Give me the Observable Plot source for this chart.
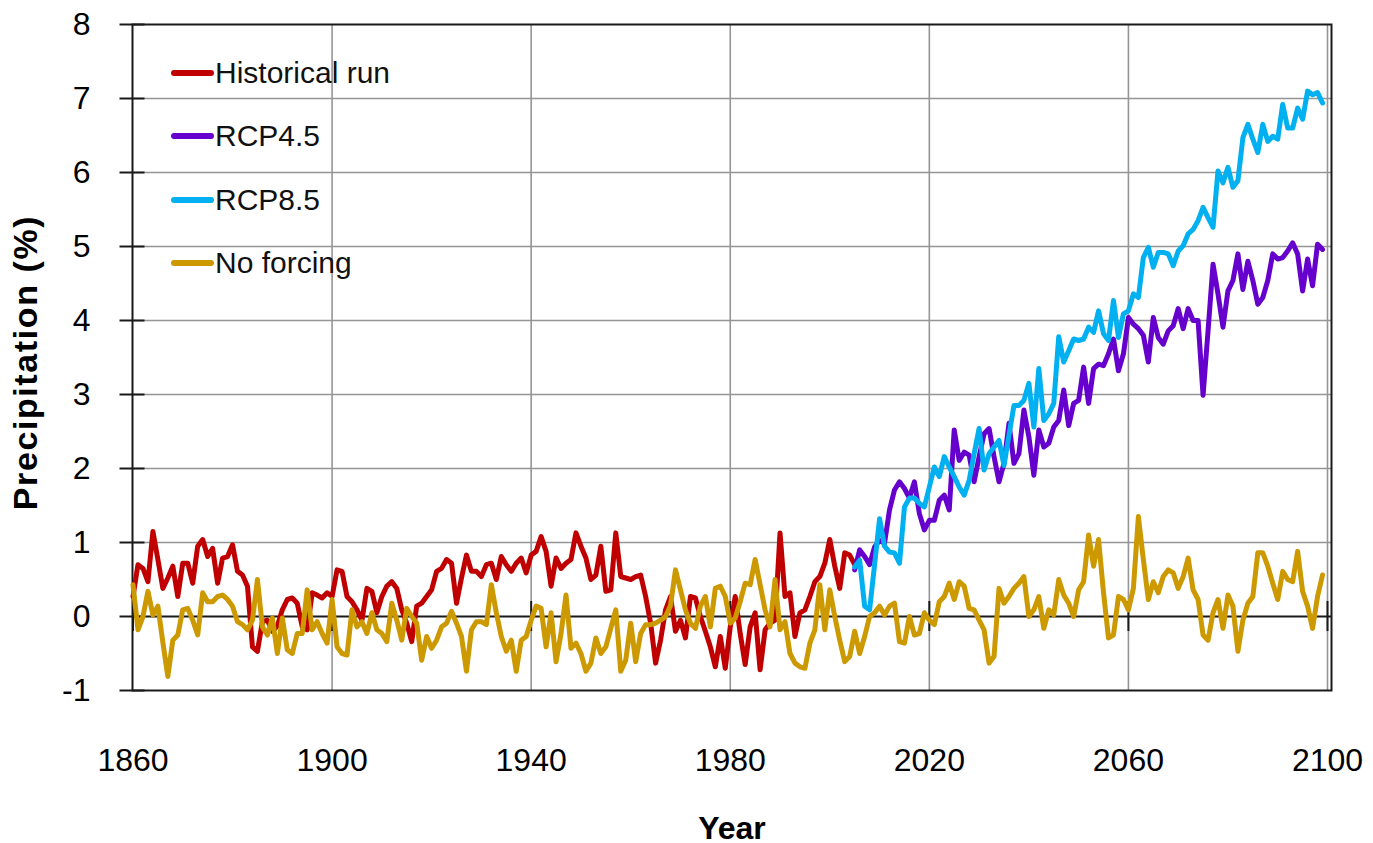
<!DOCTYPE html>
<html>
<head>
<meta charset="utf-8">
<script src="https://cdn.jsdelivr.net/npm/d3@7"></script>
<script src="https://cdn.jsdelivr.net/npm/@observablehq/plot@0.6"></script>
<style>
  html, body { margin: 0; padding: 0; background: #fff; overflow: hidden; }
  #wrap { position: relative; width: 1373px; height: 843px; }
  #legend { position: absolute; left: 170px; top: 41.8px; font-family: "Liberation Sans", Arial, sans-serif; font-size: 30px; color: #111; }
  #legend .item { display: flex; align-items: center; height: 63.1px; }
  #legend .item span { line-height: 1; white-space: nowrap; }
  #legend svg { display: block; }
</style>
</head>
<body>
<div id="wrap"></div>
<script>
// ---- Data (annual values, % precipitation change) ----
const historicalStart = 1860;
const historical = [
  0.27,0.70,0.65,0.47,1.15,0.77,0.38,0.52,0.68,0.27,
  0.72,0.72,0.45,0.95,1.04,0.81,0.92,0.45,0.79,0.81,
  0.97,0.61,0.56,0.41,-0.41,-0.47,-0.07,-0.05,-0.20,-0.13,
  0.09,0.23,0.25,0.18,-0.14,-0.18,0.32,0.29,0.25,0.32,
  0.27,0.63,0.61,0.27,0.20,0.09,-0.05,0.38,0.34,0.05,
  0.27,0.41,0.47,0.38,0.09,-0.09,-0.34,0.14,0.18,0.27,
  0.36,0.61,0.65,0.77,0.72,0.18,0.52,0.83,0.61,0.61,
  0.54,0.70,0.72,0.50,0.81,0.70,0.61,0.72,0.79,0.59,
  0.83,0.88,1.08,0.88,0.41,0.79,0.65,0.72,0.77,1.13,
  0.95,0.79,0.50,0.56,0.95,0.34,0.36,1.13,0.54,0.52,
  0.50,0.54,0.56,0.27,-0.09,-0.63,-0.32,0.09,0.27,-0.20,
  -0.05,-0.29,0.27,0.25,0.00,-0.20,-0.41,-0.68,-0.27,-0.70,
  -0.14,0.27,-0.23,-0.65,-0.14,0.05,-0.72,-0.18,-0.09,-0.05,
  1.13,0.27,0.32,-0.27,0.05,0.09,0.27,0.47,0.54,0.72,
  1.04,0.68,0.38,0.86,0.83,0.70
];

const rcpStart = 2005;
const rcp45 = [
  0.63,0.90,0.81,0.70,0.94,1.03,0.99,1.44,1.71,1.82,
  1.73,1.60,1.82,1.39,1.17,1.30,1.30,1.57,1.64,1.44,
  2.52,2.11,2.22,2.18,1.82,2.16,2.47,2.54,2.16,1.82,
  2.07,2.61,2.07,2.20,2.79,2.43,1.91,2.52,2.29,2.34,
  2.56,2.65,3.06,2.58,2.88,2.92,3.37,2.88,3.35,3.41,
  3.39,3.55,3.75,3.32,3.55,4.04,3.95,3.89,3.80,3.44,
  4.04,3.77,3.68,3.86,3.93,4.16,3.89,4.16,4.00,4.00,
  2.99,3.86,4.76,4.36,3.91,4.40,4.54,4.90,4.42,4.80,
  4.54,4.22,4.31,4.54,4.90,4.83,4.85,4.94,5.05,4.90,
  4.40,4.83,4.47,5.03,4.96
];
const rcp85 = [
  0.67,0.76,0.14,0.09,0.70,1.32,0.95,0.87,0.86,0.72,
  1.48,1.60,1.60,1.53,1.48,1.75,2.02,1.89,2.16,2.02,
  1.89,1.75,1.64,1.84,2.20,2.54,1.98,2.20,2.29,2.38,
  2.04,2.45,2.85,2.85,2.92,3.15,2.56,3.35,2.65,2.74,
  2.88,3.78,3.44,3.59,3.75,3.73,3.75,3.91,3.84,4.13,
  3.82,3.73,4.27,3.77,4.09,4.13,4.36,4.31,4.85,4.99,
  4.72,4.92,4.92,4.90,4.74,4.94,5.01,5.17,5.23,5.35,
  5.53,5.39,5.26,6.02,5.86,6.07,5.80,5.89,6.47,6.65,
  6.45,6.27,6.65,6.42,6.49,6.45,6.92,6.60,6.60,6.87,
  6.72,7.10,7.05,7.08,6.94
];

const noForcingStart = 1860;
const noForcing = [
  0.43,-0.18,0.00,0.34,0.02,0.14,-0.35,-0.81,-0.32,-0.25,
  0.09,0.11,-0.05,-0.25,0.32,0.20,0.20,0.27,0.29,0.23,
  0.14,-0.07,-0.11,-0.18,-0.05,0.50,-0.14,-0.25,-0.02,-0.50,
  -0.02,-0.45,-0.50,-0.23,-0.23,0.36,-0.18,-0.07,-0.23,-0.36,
  0.23,-0.41,-0.50,-0.52,0.09,-0.14,-0.07,-0.23,0.05,-0.18,
  -0.23,-0.34,0.18,-0.05,-0.32,0.11,0.00,-0.09,-0.59,-0.27,
  -0.43,-0.32,-0.14,-0.09,0.07,-0.09,-0.27,-0.74,-0.18,-0.07,
  -0.07,-0.11,0.43,0.05,-0.27,-0.47,-0.32,-0.74,-0.32,-0.27,
  -0.05,0.14,0.11,-0.41,0.05,-0.61,-0.23,0.29,-0.43,-0.36,
  -0.50,-0.74,-0.63,-0.29,-0.50,-0.41,-0.16,0.09,-0.74,-0.59,
  -0.09,-0.61,-0.23,-0.11,-0.11,-0.09,-0.05,0.00,0.15,0.63,
  0.36,0.09,-0.09,-0.16,0.14,0.27,-0.14,0.38,0.41,0.27,
  -0.09,-0.02,0.20,0.45,0.43,0.77,0.43,0.09,-0.14,0.50,
  -0.18,-0.07,-0.50,-0.63,-0.68,-0.70,-0.36,-0.18,0.43,-0.18,
  0.36,0.00,-0.32,-0.61,-0.54,-0.20,-0.50,-0.27,0.00,0.05,
  0.14,0.02,0.14,0.18,-0.34,-0.36,0.00,-0.25,-0.23,0.05,
  -0.05,-0.11,0.20,0.27,0.45,0.23,0.47,0.41,0.11,0.09,
  -0.05,-0.18,-0.63,-0.54,0.38,0.18,0.27,0.38,0.45,0.54,
  0.00,0.09,0.27,-0.16,0.09,0.02,0.50,0.29,0.18,0.00,
  0.36,0.47,1.10,0.68,1.04,0.32,-0.29,-0.25,0.27,0.23,
  0.09,0.38,1.35,0.77,0.23,0.47,0.32,0.54,0.63,0.59,
  0.38,0.54,0.79,0.36,0.23,-0.25,-0.32,0.05,0.23,-0.16,
  0.29,0.14,-0.47,-0.05,0.18,0.27,0.86,0.86,0.68,0.45,
  0.23,0.61,0.50,0.47,0.88,0.34,0.14,-0.16,0.27,0.56
];

const seriesNames = ["Historical run", "RCP4.5", "RCP8.5", "No forcing"];
const seriesColors = ["#C00000", "#6600CC", "#00B0F0", "#CC9900"];
const xTicks = [1860, 1900, 1940, 1980, 2020, 2060, 2100];
const yTicks = [-1, 0, 1, 2, 3, 4, 5, 6, 7, 8];
const xDomain = [1860, 2100];
const yDomain = [-1, 8];
const yTitle = "Precipitation (%)";
const xTitle = "Year";

// ---- Build long table ----
const rows = [];
function addSeries(name, start, values) {
  values.forEach((v, i) => rows.push({ series: name, year: start + i, value: v }));
}
addSeries(seriesNames[0], historicalStart, historical);
addSeries(seriesNames[1], rcpStart, rcp45);
addSeries(seriesNames[2], rcpStart, rcp85);
addSeries(seriesNames[3], noForcingStart, noForcing);

const FONT = '"Liberation Sans", Arial, sans-serif';

const chart = Plot.plot({
  width: 1373,
  height: 843,
  marginLeft: 132,
  marginRight: 42,
  marginTop: 24,
  marginBottom: 153,
  style: { fontFamily: FONT, background: "#fff", color: "#000", overflow: "visible" },
  x: { domain: xDomain, range: [132.5, 1327], label: null },
  y: { domain: yDomain, label: null },
  color: { domain: seriesNames, range: seriesColors },
  marks: [
    Plot.gridY(yTicks.filter(d => d > 0 && d < yDomain[1]), { stroke: "#959595", strokeOpacity: 1, strokeWidth: 1.6 }),
    Plot.gridX(xTicks.filter(d => d > xDomain[0]), { stroke: "#959595", strokeOpacity: 1, strokeWidth: 1.6 }),
    Plot.ruleY([0], { stroke: "#1a1a1a", strokeWidth: 2 }),
    Plot.frame({ stroke: "#1a1a1a", strokeWidth: 2 }),
    // crossing tick marks on the y axis
    Plot.ruleY(yTicks, { y: d => d, x1: xDomain[0], x2: xDomain[0], insetLeft: -13, insetRight: -12, stroke: "#1a1a1a", strokeWidth: 2 }),
    // crossing tick marks on the zero line
    Plot.ruleX(xTicks, { x: d => d, y1: 0, y2: 0, insetTop: -15, insetBottom: -15, stroke: "#1a1a1a", strokeWidth: 2 }),
    Plot.axisY(yTicks, { tickSize: 0, tickPadding: 42, fontSize: 32, tickFormat: d => String(d), label: null }),
    Plot.axisX(xTicks, { tickSize: 0, tickPadding: 58, fontSize: 32, tickFormat: d => String(d), label: null }),
    Plot.line(rows, {
      x: "year", y: "value", z: "series", stroke: "series",
      strokeWidth: 5, strokeLinejoin: "round", strokeLinecap: "round"
    }),
    Plot.text([yTitle], {
      text: d => d, frameAnchor: "left", textAnchor: "middle", lineAnchor: "middle",
      dx: -106, dy: 5, rotate: -90,
      fontSize: 34, fontWeight: "bold", fill: "#000"
    }),
    Plot.text([xTitle], {
      text: d => d, frameAnchor: "bottom", textAnchor: "middle", lineAnchor: "middle",
      dy: 138, fontSize: 32, fontWeight: "bold", fill: "#000"
    })
  ]
});

// slightly wider tracking on the vertical title, like the reference
d3.select(chart).selectAll("text")
  .filter(function () { return this.textContent === yTitle; })
  .attr("letter-spacing", "1.6");

const wrap = document.getElementById("wrap");
wrap.appendChild(chart);

// ---- Legend (inside plot area, top-left) ----
const legend = document.createElement("div");
legend.id = "legend";
seriesNames.forEach((name, i) => {
  const item = document.createElement("div");
  item.className = "item";
  item.innerHTML =
    `<svg width="45" height="12"><line x1="4" y1="6" x2="41" y2="6" stroke="${seriesColors[i]}" stroke-width="6" stroke-linecap="round"/></svg>` +
    `<span>${name}</span>`;
  legend.appendChild(item);
});
wrap.appendChild(legend);
</script>
</body>
</html>
